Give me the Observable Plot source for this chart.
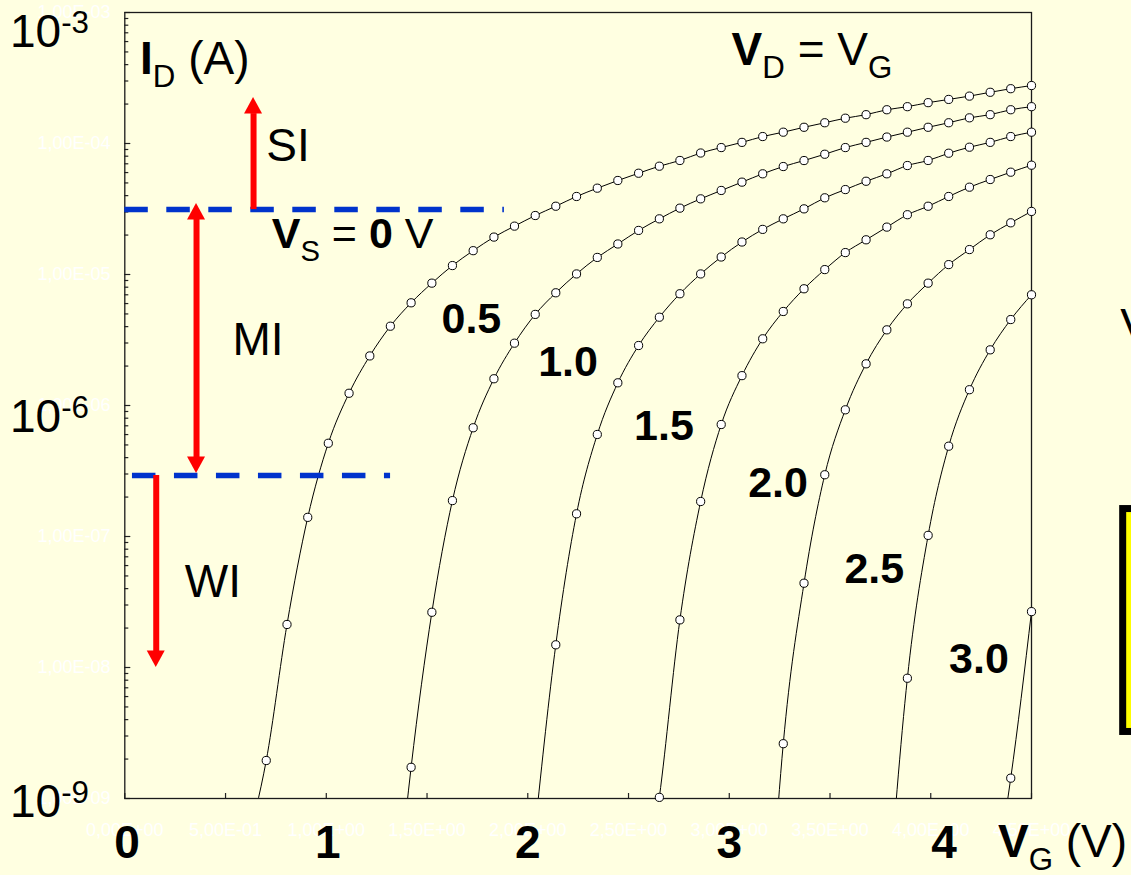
<!DOCTYPE html>
<html>
<head>
<meta charset="utf-8">
<script src="https://cdn.jsdelivr.net/npm/d3@7"></script>
<script src="https://cdn.jsdelivr.net/npm/@observablehq/plot@0.6"></script>
<style>
  html, body { margin: 0; padding: 0; background: #FFFFE1; }
  #chart svg { display: block; }
</style>
</head>
<body>
<div id="chart"></div>
<script>
// Gate voltage steps of the sweep (V), with V_D tied to V_G
const vg = [0.600, 0.702, 0.805, 0.908, 1.010, 1.113, 1.216, 1.318, 1.421, 1.524,
            1.626, 1.729, 1.832, 1.934, 2.037, 2.139, 2.242, 2.345, 2.447, 2.550,
            2.653, 2.755, 2.858, 2.960, 3.063, 3.166, 3.268, 3.371, 3.474, 3.576,
            3.679, 3.782, 3.884, 3.987, 4.089, 4.192, 4.295, 4.397, 4.500];

// Drain current I_D (A) per source voltage, aligned with vg (null = no point)
const idVs00 = [4.2e-10, 1.95e-9, 2.13e-8, 1.40e-7, 5.15e-7, 1.24e-6, 2.39e-6, 4.03e-6, 6.08e-6, 8.59e-6,
                1.17e-5, 1.52e-5, 1.93e-5, 2.34e-5, 2.82e-5, 3.32e-5, 3.94e-5, 4.56e-5, 5.22e-5, 5.93e-5,
                6.71e-5, 7.42e-5, 8.46e-5, 9.31e-5, 1.02e-4, 1.13e-4, 1.22e-4, 1.33e-4, 1.44e-4, 1.56e-4,
                1.66e-4, 1.81e-4, 1.91e-4, 2.05e-4, 2.17e-4, 2.30e-4, 2.46e-4, 2.62e-4, 2.77e-4];
const idVs05 = [null, null, null, null, null, null, null, 5.0e-11, 1.73e-9, 2.64e-8,
                1.88e-7, 6.76e-7, 1.60e-6, 2.99e-6, 4.96e-6, 7.25e-6, 1.01e-5, 1.35e-5, 1.71e-5, 2.17e-5,
                2.66e-5, 3.21e-5, 3.78e-5, 4.38e-5, 5.07e-5, 5.87e-5, 6.67e-5, 7.41e-5, 8.28e-5, 9.31e-5,
                1.02e-4, 1.12e-4, 1.22e-4, 1.33e-4, 1.44e-4, 1.57e-4, 1.66e-4, 1.81e-4, 1.91e-4];
const idVs10 = [null, null, null, null, null, null, null, null, null, null,
                null, null, null, null, 6.0e-10, 1.49e-8, 1.49e-7, 6.01e-7, 1.49e-6, 2.87e-6,
                4.72e-6, 7.13e-6, 1.01e-5, 1.36e-5, 1.77e-5, 2.21e-5, 2.66e-5, 3.17e-5, 3.85e-5, 4.45e-5,
                5.15e-5, 5.87e-5, 6.79e-5, 7.42e-5, 8.43e-5, 9.37e-5, 1.02e-4, 1.13e-4, 1.22e-4];
const idVs15 = [null, null, null, null, null, null, null, null, null, null,
                null, null, null, null, null, null, null, null, null, 1.0e-10,
                1.02e-9, 2.31e-8, 1.85e-7, 7.16e-7, 1.69e-6, 3.23e-6, 5.22e-6, 7.78e-6, 1.09e-5, 1.47e-5,
                1.84e-5, 2.30e-5, 2.86e-5, 3.32e-5, 3.94e-5, 4.64e-5, 5.31e-5, 6.04e-5, 6.83e-5];
const idVs20 = [null, null, null, null, null, null, null, null, null, null,
                null, null, null, null, null, null, null, null, null, null,
                null, null, null, null, null, 1.5e-11, 2.62e-9, 4.40e-8, 2.96e-7, 9.27e-7,
                2.08e-6, 3.78e-6, 5.97e-6, 8.59e-6, 1.19e-5, 1.55e-5, 2.01e-5, 2.48e-5, 3.03e-5];
const idVs25 = [null, null, null, null, null, null, null, null, null, null,
                null, null, null, null, null, null, null, null, null, null,
                null, null, null, null, null, null, null, null, null, null,
                null, 1.2e-10, 8.28e-9, 1.02e-7, 4.89e-7, 1.32e-6, 2.66e-6, 4.53e-6, 7.00e-6];
const idVs30 = [null, null, null, null, null, null, null, null, null, null,
                null, null, null, null, null, null, null, null, null, null,
                null, null, null, null, null, null, null, null, null, null,
                null, null, null, null, null, null, 1.5e-10, 1.43e-9, 2.67e-8];

const sourceVoltages = [0, 0.5, 1.0, 1.5, 2.0, 2.5, 3.0];

// Curve tags (V_S in volts) and where they sit
const curveTags = ["0.5", "1.0", "1.5", "2.0", "2.5", "3.0"];
const curveTagX = [1.720, 2.200, 2.676, 3.242, 3.720, 4.239];
const curveTagY = [3.55e-6, 1.69e-6, 5.41e-7, 2.00e-7, 4.38e-8, 9.0e-9];

// Axis ticks and their labels
const xTicks = [0, 0.5, 1.0, 1.5, 2.0, 2.5, 3.0, 3.5, 4.0, 4.5];
const yDecades = [1e-9, 1e-8, 1e-7, 1e-6, 1e-5, 1e-4, 1e-3];
const xBigLabels = ["0", "1", "2", "3", "4"];
const xBigLabelAt = [0.011, 1.008, 2.0, 3.0, 4.066];
const yBigLabelAt = [1e-3, 1e-6, 1e-9];
const yBigExponents = ["-3", "-6", "-9"];

// Inversion regimes: strong / moderate / weak
const regimeNames = ["SI", "MI", "WI"];
const regimeX = [0.810, 0.661, 0.437];
const regimeY = [7.41e-5, 2.41e-6, 3.44e-8];

// Regime boundaries (A) drawn as dashed levels
const boundaryLevel = [3.13e-5, 2.92e-7];
const boundaryFrom = [0, 0.038];
const boundaryTo = [1.884, 1.319];

// Regime arrows: position (V), start and tip current (A)
const arrowX = [0.639, 0.356, 0.156];
const arrowFrom = [3.13e-5, 3.48e-5, 2.92e-7];
const arrowTo = [2.24e-4, 3.03e-7, 1.0e-8];
const arrowBoth = [false, true, false];

// ---- layout ----
const W = 1131, H = 875, ML = 124.3, MR = 100, MT = 12, MB = 77;
const BG = "#FFFFE1", BLUE = "#0033CC", RED = "#FF0000";
const FONT = "'Liberation Sans', Arial, Helvetica, sans-serif";
const pxPerDecade = (H - MT - MB) / 6;
const pxPerVolt = (W - ML - MR) / 4.5;
const HEAD_LEN = 16.5, HEAD_W = 18;

const shiftPx = (v, px) => v * Math.pow(10, px / pxPerDecade); // move a current up by px

const fmtE = (v) => {
  if (v === 0) return "0,00E+00";
  const [m, e] = v.toExponential(2).split("e");
  const n = +e;
  return m.replace(".", ",") + "E" + (n < 0 ? "-" : "+") + String(Math.abs(n)).padStart(2, "0");
};

// Long table of measured points
const series = [idVs00, idVs05, idVs10, idVs15, idVs20, idVs25, idVs30];
const rows = [];
series.forEach((ids, s) => ids.forEach((id, k) => {
  if (id != null) rows.push({vs: sourceVoltages[s], vg: vg[k], id});
}));

// Arrow shafts and filled heads
const shafts = [], heads = [];
function addHead(x, tip, up) {
  const base = shiftPx(tip, up ? -HEAD_LEN : HEAD_LEN);
  const hw = HEAD_W / 2 / pxPerVolt;
  const id = heads.length;
  heads.push({id, y: base, x1: x - hw, x2: x + hw}, {id, y: tip, x1: x, x2: x});
}
arrowX.forEach((x, i) => {
  const from = arrowFrom[i], to = arrowTo[i];
  const up = to > from;
  let y1 = from;
  const y2 = shiftPx(to, up ? -HEAD_LEN + 0.5 : HEAD_LEN - 0.5);
  addHead(x, to, up);
  if (arrowBoth[i]) { y1 = shiftPx(from, up ? HEAD_LEN - 0.5 : -HEAD_LEN + 0.5); addHead(x, from, !up); }
  shafts.push({x, y1, y2});
});

// Tick marks (inward)
const yMinor = [];
yDecades.slice(0, -1).forEach((d) => { for (let m = 2; m <= 9; m++) yMinor.push(d * m); });

const chart = Plot.plot({
  width: W, height: H,
  marginLeft: ML, marginRight: MR, marginTop: MT, marginBottom: MB,
  style: {background: BG, fontFamily: FONT, overflow: "hidden"},
  x: {domain: [0, 4.5], axis: null},
  y: {type: "log", domain: [1e-9, 1e-3], axis: null},
  marks: [
    // faint tick labels
    Plot.text(xTicks, {x: (d) => d, y: 1e-9, dy: 37, text: fmtE, fill: "white", fontSize: 18, lineAnchor: "bottom", textAnchor: "middle"}),
    Plot.text(yDecades, {x: 0, y: (d) => d, dx: -14.3, text: fmtE, fill: "white", fontSize: 18, lineAnchor: "middle", textAnchor: "end"}),
    // ticks
    Plot.ruleX(xTicks, {x: (d) => d, y1: 1e-9, y2: shiftPx(1e-9, 5), stroke: "#222", strokeWidth: 1.2}),
    Plot.ruleY(yDecades, {y: (d) => d, x1: 0, x2: 6 / pxPerVolt, stroke: "#222", strokeWidth: 1.2}),
    Plot.ruleY(yMinor, {y: (d) => d, x1: 0, x2: 4 / pxPerVolt, stroke: "#222", strokeWidth: 1.2}),
    Plot.frame({stroke: "#1a1a1a", strokeWidth: 1.3}),
    // transfer curves
    Plot.line(rows, {x: "vg", y: "id", z: "vs", curve: "monotone-x", stroke: "black", strokeWidth: 1, clip: true}),
    Plot.dot(rows.filter((d) => d.id >= 1e-9), {x: "vg", y: "id", r: 4.1, fill: "white", stroke: "black", strokeWidth: 1}),
    // curve tags
    Plot.text(curveTags, {x: (d, i) => curveTagX[i], y: (d, i) => curveTagY[i], text: (d) => d, fontSize: 43, fontWeight: "bold", textAnchor: "middle", lineAnchor: "bottom", fill: "black"}),
    // regime boundaries and arrows
    Plot.ruleY(boundaryLevel, {y: (d) => d, x1: (d, i) => boundaryFrom[i], x2: (d, i) => boundaryTo[i], stroke: BLUE, strokeWidth: 5.5, strokeDasharray: "23.5,18.5"}),
    Plot.ruleX(shafts, {x: "x", y1: "y1", y2: "y2", stroke: RED, strokeWidth: 6}),
    Plot.areaX(heads, {y: "y", x1: "x1", x2: "x2", z: "id", fill: RED}),
    Plot.text(regimeNames, {x: (d, i) => regimeX[i], y: (d, i) => regimeY[i], text: (d) => d, fontSize: 46, textAnchor: "middle", lineAnchor: "bottom", fill: "black"}),
    // big axis numerals
    Plot.text(xBigLabels, {x: (d, i) => xBigLabelAt[i], y: 1e-9, dy: 59, text: (d) => d, fontSize: 46, fontWeight: "bold", textAnchor: "middle", lineAnchor: "bottom", fill: "black"}),
    // side panel edge
    Plot.rect([0], {x1: 4.955, x2: 5.5, y1: 3.22e-9, y2: 1.62e-7, fill: "#FFFF00", stroke: "black", strokeWidth: 7}),
    Plot.text(["V"], {x: 4.941, y: 3.08e-6, text: (d) => d, fontSize: 46, textAnchor: "start", lineAnchor: "bottom", fill: "black"})
  ]
});

document.getElementById("chart").append(chart);

// Labels with sub/superscripts, placed through the chart's scales
const sx = chart.scale("x"), sy = chart.scale("y");
const svg = d3.select(chart);
function richText(x, y, parts, size, dx = 0, dy = 0) {
  const t = svg.append("text")
    .attr("x", sx.apply(x) + dx).attr("y", sy.apply(y) + dy)
    .attr("text-anchor", "start")
    .attr("font-family", FONT).attr("font-size", size).attr("fill", "black")
    .style("white-space", "pre");
  let shift = 0;
  for (const p of parts) {
    const small = p.sub || p.sup;
    const target = p.sub ? size * 0.29 : p.sup ? -size * 0.3 : 0;
    t.append("tspan")
      .attr("dy", target - shift)
      .attr("font-size", small ? size * 0.68 : size)
      .attr("font-weight", p.bold ? "bold" : null)
      .text(p.t);
    shift = target;
  }
}

// 10^n labels on the current axis
const yBigDy = [34.7, 26.7, 18.7];
yBigLabelAt.forEach((v, i) => {
  richText(0, v, [{t: "10"}, {t: yBigExponents[i], sup: true}], 46, -114.3, yBigDy[i]);
});

richText(0.078, 3.38e-4, [{t: "I", bold: true}, {t: "D", sub: true}, {t: " (A)"}], 46);
richText(3.014, 3.94e-4, [{t: "V", bold: true}, {t: "D", sub: true}, {t: " = V"}, {t: "G", sub: true}], 46);
richText(0.7315, 1.57e-5, [{t: "V", bold: true}, {t: "S", sub: true}, {t: " = "}, {t: "0", bold: true}, {t: " V"}], 43);
richText(4.336, 1e-9, [{t: "V", bold: true}, {t: "G", sub: true}, {t: " (V)"}], 46, 0, 58.7);
</script>
</body>
</html>
